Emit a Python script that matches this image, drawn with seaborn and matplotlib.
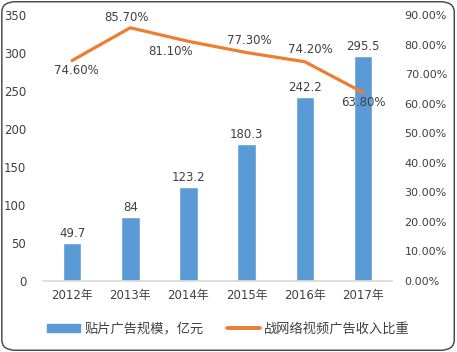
import matplotlib
matplotlib.use("Agg")
import matplotlib.pyplot as plt
import seaborn as sns
import pandas as pd
from matplotlib.patches import FancyBboxPatch
from matplotlib.lines import Line2D
from matplotlib.patches import Patch

years = ["2012年", "2013年", "2014年", "2015年", "2016年", "2017年"]
ad_scale = [49.7, 84, 123.2, 180.3, 242.2, 295.5]
share = [74.6, 85.7, 81.1, 77.3, 74.2, 63.8]
bar_name = "贴片广告规模，亿元"
line_name = "战网络视频广告收入比重"

sns.set_theme(style="white")
plt.rcParams['font.family'] = ['DejaVu Sans', 'Noto Sans CJK SC']

BLUE = "#5B9BD5"
ORANGE = "#ED7D31"
TXT = "#404040"

df = pd.DataFrame({"year": years, "scale": ad_scale, "share": share})

fig = plt.figure(figsize=(4.57, 3.52), dpi=100)
ax = fig.add_axes([0.094, 0.2017, 0.764, 0.7555])
sns.barplot(data=df, x="year", y="scale", color=BLUE, width=0.32, ax=ax, saturation=1)
ax.set_ylim(0, 350)
ax.set_yticks(range(0, 351, 50))
ax.set_xlabel("")
ax.set_ylabel("")
for s in ["top", "right", "left"]:
    ax.spines[s].set_visible(False)
ax.spines["bottom"].set_color("#D9D9D9")
ax.tick_params(axis="both", length=0, labelsize=8.5, colors=TXT)
ax.tick_params(axis="x", pad=6)
ax.tick_params(axis="y", pad=12)
for i, v in enumerate(ad_scale):
    ax.text(i, v + 4, f"{v:g}", ha="center", va="bottom", fontsize=8.5, color=TXT)

ax2 = ax.twinx()
sns.lineplot(x=list(range(len(years))), y=share, color=ORANGE, linewidth=2.3, ax=ax2)
ax2.set_ylim(0, 90)
ax2.set_yticks(range(0, 91, 10))
ax2.set_yticklabels([f"{t:.2f}%" for t in range(0, 91, 10)])
for s in ["top", "right", "left", "bottom"]:
    ax2.spines[s].set_visible(False)
ax2.tick_params(axis="y", length=0, labelsize=8, colors=TXT, pad=9)
ax.set_xlim(-0.5, 5.5)
offsets = [(3, -7), (-3, 7.5), (-13, -7.5), (2, 9), (4, 9), (0, -7)]
for i, (v, (dx, dy)) in enumerate(zip(share, offsets)):
    ax2.annotate(f"{v:.2f}%", (i, v), xytext=(dx, dy), textcoords="offset points",
                 ha="center", va="center", fontsize=8.5, color=TXT)

handles = [Patch(color=BLUE), Line2D([0], [0], color=ORANGE, linewidth=2.8)]
fig.legend(handles, [bar_name, line_name], loc="center", bbox_to_anchor=(0.5, 0.065),
           ncol=2, frameon=False, fontsize=9.5, handlelength=2.5, handleheight=0.5,
           handletextpad=0.3, columnspacing=1.8, labelcolor=TXT)

border = FancyBboxPatch((0.004, 0.005), 0.99, 0.99, boxstyle="round,pad=0,rounding_size=0.03",
                        transform=fig.transFigure, fill=False, edgecolor="#404040", linewidth=1.0)
fig.patches.append(border)

fig.savefig("out.png", dpi=100)
